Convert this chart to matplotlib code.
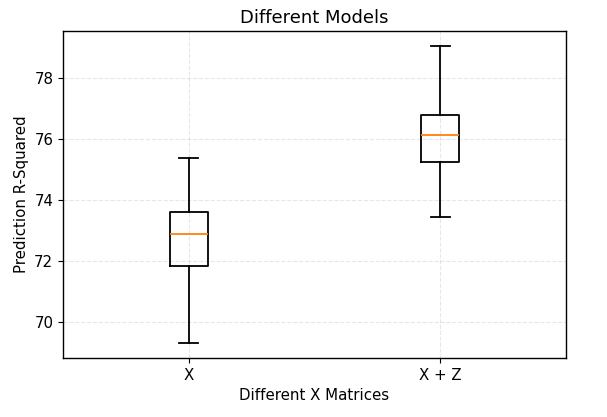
import matplotlib
matplotlib.use("Agg")
import matplotlib.pyplot as plt

categories = ["X", "X + Z"]
whislo = [69.31, 73.45]
q1 = [71.84, 75.23]
med = [72.90, 76.12]
q3 = [73.62, 76.78]
whishi = [75.36, 79.05]

stats = []
for i, c in enumerate(categories):
    stats.append(dict(label=c, whislo=whislo[i], q1=q1[i], med=med[i],
                      q3=q3[i], whishi=whishi[i], fliers=[]))

fig = plt.figure(figsize=(6.07, 4.17), dpi=100)
ax = fig.add_axes([63/607, 1-358/417, (566-63)/607, (358-31)/417])
lw = 1.3
ax.bxp(stats, positions=[1, 2], widths=0.15,
       boxprops=dict(linewidth=lw), whiskerprops=dict(linewidth=lw),
       capprops=dict(linewidth=lw), medianprops=dict(linewidth=lw, color='#ff7f0e'))
ax.set_xlim(0.5, 2.5)
ax.grid(True, linestyle='--', alpha=0.3)
for s in ax.spines.values():
    s.set_linewidth(1.0)
ax.tick_params(labelsize=10.8)
ax.set_title("Different Models", fontsize=13)
ax.set_xlabel("Different X Matrices", fontsize=10.8)
ax.set_ylabel("Prediction R-Squared", fontsize=10.8)
fig.savefig("out.png", dpi=100)
